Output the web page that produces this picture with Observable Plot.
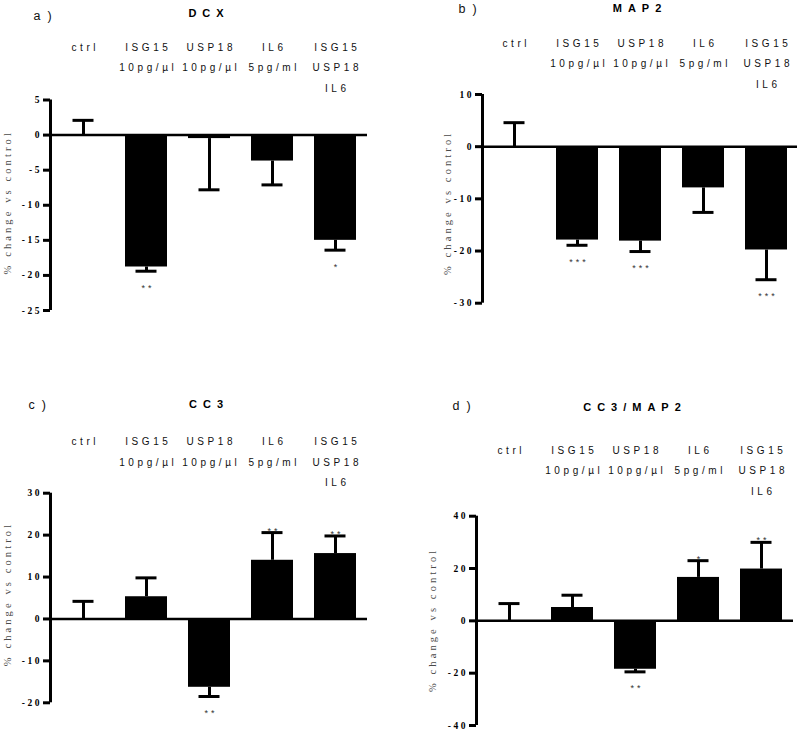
<!DOCTYPE html>
<html><head><meta charset="utf-8">
<script src="https://cdn.jsdelivr.net/npm/d3@7"></script>
<script src="https://cdn.jsdelivr.net/npm/@observablehq/plot@0.6"></script>
<style>
body{margin:0;background:#fff;}
#chart{position:relative;width:800px;height:732px;overflow:hidden;background:#fff;}
.panel{position:absolute;}
.panel svg{overflow:visible;}
g[aria-label="y-axis tick label"], g[aria-label="y-axis tick label"] text{
  letter-spacing:2.5px;font-family:'Liberation Serif',serif;font-weight:bold;font-size:9.5px;fill:#000;}
.cat{letter-spacing:3.6px;}
.title{letter-spacing:6px;}
.letter{letter-spacing:7px;}
.ylab{letter-spacing:3.1px;}
.star{letter-spacing:3px;}
</style></head><body><div id="chart"></div>
<script>
// ---- data ----
const categories = ["ctrl", "ISG15", "USP18", "IL6", "ISG15+USP18+IL6"];
const categoryLabels = ["ctrl", "ISG15\n10pg/µl", "USP18\n10pg/µl", "IL6\n5pg/ml", "ISG15\nUSP18\nIL6"];
const yLabel = "% change vs control";

const dcxTitle = "DCX", dcxLetter = "a)";
const dcxValues = [0, -18.8, -0.5, -3.7, -15.0];
const dcxErrors = [2.1, 0.6, 7.3, 3.4, 1.4];
const dcxStars = ["", "**", "", "", "*"];
const dcxTicks = [5, 0, -5, -10, -15, -20, -25];

const map2Title = "MAP2", map2Letter = "b)";
const map2Values = [0, -17.9, -18.1, -7.9, -19.8];
const map2Errors = [4.6, 1.0, 2.0, 4.7, 5.7];
const map2Stars = ["", "***", "***", "", "***"];
const map2Ticks = [10, 0, -10, -20, -30];

const cc3Title = "CC3", cc3Letter = "c)";
const cc3Values = [0, 5.3, -16.3, 14.0, 15.6];
const cc3Errors = [4.2, 4.5, 2.2, 6.6, 4.2];
const cc3Stars = ["", "", "**", "**", "**"];
const cc3Ticks = [30, 20, 10, 0, -10, -20];

const ratioTitle = "CC3/MAP2", ratioLetter = "d)";
const ratioValues = [0, 5.1, -18.5, 16.6, 19.8];
const ratioErrors = [6.6, 4.7, 1.0, 6.4, 10.2];
const ratioStars = ["", "", "**", "*", "**"];
const ratioTicks = [40, 20, 0, -20, -40];

// ---- layout ----
const layouts = [
  {left: 0,   top: 0,   ml: 50, mr: 33, mt: 99.5,  mb: 56,   catTop: 43.3, titleY: 13.3, letterX: 33, letterY: 15.5, labelX: 7.5,  labelDy: -3},
  {left: 400, top: 0,   ml: 82, mr: 3,  mt: 94,    mb: 63.3, catTop: 39.3, titleY: 7.5,  letterX: 58, letterY: 8,    labelX: 46.7, labelDy: 4},
  {left: 0,   top: 366, ml: 50, mr: 33, mt: 126.7, mb: 29.7, catTop: 71.7, titleY: 38.2, letterX: 28, letterY: 38,   labelX: 6.7,  labelDy: -4},
  {left: 400, top: 366, ml: 76, mr: 7,  mt: 149.7, mb: 7,    catTop: 80,   titleY: 41,   letterX: 52, letterY: 39,   labelX: 31.7, labelDy: -1}
];
const W = 400, H = 366;
const catFont = 10, catLineHeight = 2.05;
const catShift = (0.71 * catLineHeight - 0.716) * catFont; // first-line cap top offset in Plot's multiline layout

function panel(cfg, title, letter, values, errors, stars, ticks) {
  const data = categories.map((c, i) => ({
    cat: c, label: categoryLabels[i], value: values[i],
    end: values[i] + (values[i] < 0 ? -errors[i] : errors[i]), star: stars[i]
  }));
  const domain = [d3.min(ticks), d3.max(ticks)];
  const frameCenter = (cfg.ml + W - cfg.mr) / 2;
  return Plot.plot({
    width: W, height: H,
    marginLeft: cfg.ml, marginRight: cfg.mr, marginTop: cfg.mt, marginBottom: cfg.mb,
    style: {fontFamily: "'Liberation Sans', Arial, sans-serif", fontSize: "10px", background: "transparent", color: "#000"},
    x: {domain: categories, paddingInner: 0.34, paddingOuter: 0.17, axis: null},
    y: {domain, axis: null},
    marks: [
      Plot.barY(data, {x: "cat", y1: 0, y2: "value", fill: "#000"}),
      Plot.ruleX(data, {x: "cat", y1: "value", y2: "end", strokeWidth: 3, stroke: "#000"}),
      Plot.tickY(data, {x: "cat", y: "end", strokeWidth: 3, stroke: "#000", insetLeft: 10.5, insetRight: 10.5}),
      Plot.ruleY([0], {strokeWidth: 2.5, stroke: "#000"}),
      Plot.ruleX([0], {x: null, y1: domain[0], y2: domain[1], strokeWidth: 3, stroke: "#000", dx: cfg.ml - frameCenter}),
      Plot.axisY({ticks, tickSize: 7, tickPadding: 1.5, strokeWidth: 3, stroke: "#000", tickFormat: d => String(d),
        fontFamily: "'Liberation Serif', serif", fontWeight: "bold", fontSize: 9.5, fill: "#000", className: "ytick", label: null}),
      Plot.text(data, {x: "cat", text: "label", frameAnchor: "top", lineAnchor: "top", lineHeight: catLineHeight,
        dy: cfg.catTop - catShift - cfg.mt, dx: 1.8, fontSize: catFont, fill: "#111", className: "cat"}),
      Plot.text(data.filter(d => d.star && d.value < 0), {x: "cat", y: "end", text: "star", dy: 16.7, dx: 1.5,
        fontSize: 9, fill: "#333", className: "star"}),
      Plot.text(data.filter(d => d.star && d.value >= 0), {x: "cat", y: "end", text: "star", dy: -1.8, dx: 1.5,
        fontSize: 9, fill: "#333", className: "star"}),
      Plot.text([title], {frameAnchor: "top", lineAnchor: "middle", dy: cfg.titleY - cfg.mt, fontSize: 11, fontWeight: "bold",
        fill: "#000", className: "title"}),
      Plot.text([letter], {frameAnchor: "top-left", textAnchor: "start", lineAnchor: "middle",
        dx: cfg.letterX - cfg.ml, dy: cfg.letterY - cfg.mt, fontSize: 12.5, fill: "#111", className: "letter"}),
      Plot.text([yLabel], {frameAnchor: "left", textAnchor: "middle", lineAnchor: "middle", rotate: -90,
        dx: cfg.labelX - cfg.ml, dy: cfg.labelDy,
        fontFamily: "'Liberation Serif', serif", fontSize: 10.5, fill: "#4a4a4a", className: "ylab"})
    ]
  });
}

const chart = document.getElementById("chart");
const specs = [
  [dcxTitle, dcxLetter, dcxValues, dcxErrors, dcxStars, dcxTicks],
  [map2Title, map2Letter, map2Values, map2Errors, map2Stars, map2Ticks],
  [cc3Title, cc3Letter, cc3Values, cc3Errors, cc3Stars, cc3Ticks],
  [ratioTitle, ratioLetter, ratioValues, ratioErrors, ratioStars, ratioTicks]
];
specs.forEach((s, i) => {
  const cfg = layouts[i];
  const div = document.createElement("div");
  div.className = "panel";
  div.style.left = cfg.left + "px";
  div.style.top = cfg.top + "px";
  div.appendChild(panel(cfg, ...s));
  chart.appendChild(div);
});
</script></body></html>
